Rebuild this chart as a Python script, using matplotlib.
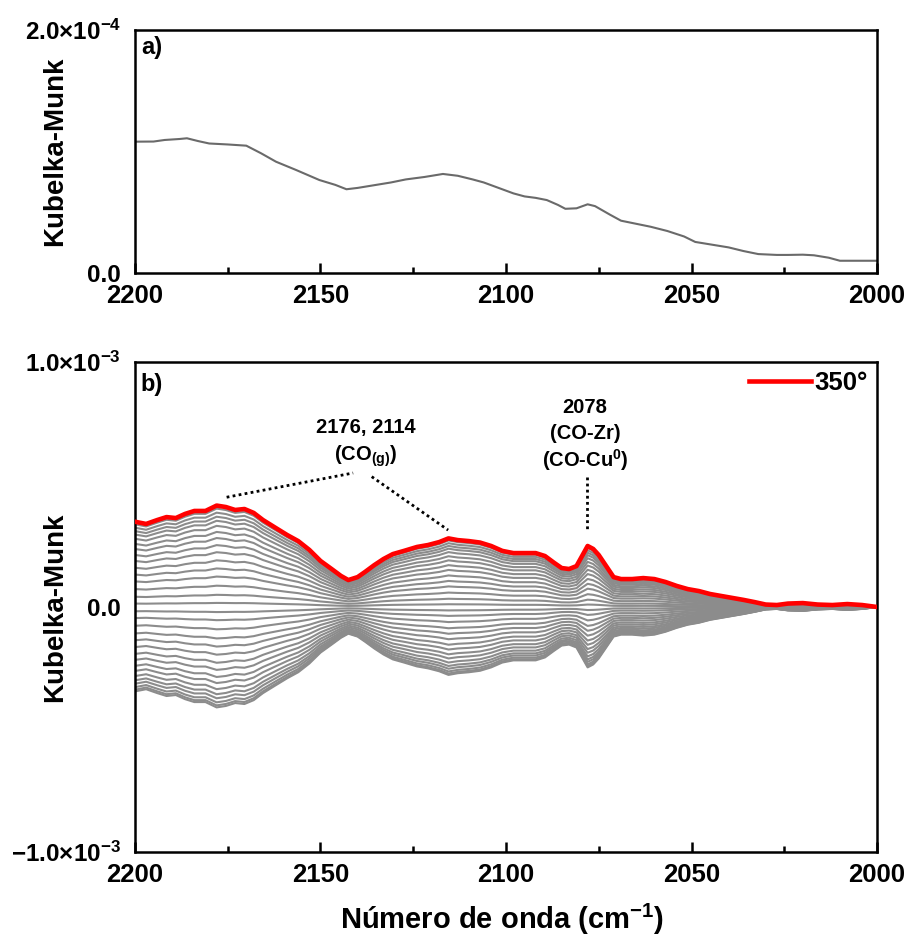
import numpy as np
import matplotlib
matplotlib.use("Agg")
import matplotlib.pyplot as plt
from matplotlib.ticker import MultipleLocator, FixedLocator

plt.rcParams['font.family'] = ['Liberation Sans', 'DejaVu Sans']
plt.rcParams['font.weight'] = 'bold'
plt.rcParams['mathtext.fontset'] = 'custom'
plt.rcParams['mathtext.rm'] = 'Liberation Sans:bold'
plt.rcParams['mathtext.bf'] = 'Liberation Sans:bold'
plt.rcParams['mathtext.it'] = 'Liberation Sans:bold'
plt.rcParams['mathtext.default'] = 'bf'
plt.rcParams['axes.unicode_minus'] = True

# ---------------- data ----------------
# panel a) single spectrum (x 1e-4)
wn_a = [2200, 2195, 2192, 2188, 2186, 2183, 2180, 2175, 2170, 2166, 2162, 2156.6,
        2150.3, 2146, 2143, 2140, 2136, 2131, 2127, 2122, 2117, 2113, 2109, 2106,
        2102, 2098, 2095, 2092, 2089, 2086, 2084, 2081, 2078, 2076, 2072, 2069,
        2065, 2061, 2056.5, 2052, 2049, 2045, 2040, 2036, 2032, 2027, 2024, 2020,
        2017, 2013, 2010, 2005, 2000]
km_a = [1.081, 1.082, 1.095, 1.103, 1.109, 1.086, 1.066, 1.058, 1.048, 0.985, 0.916, 0.848,
        0.765, 0.725, 0.689, 0.700, 0.720, 0.745, 0.770, 0.790, 0.815, 0.800, 0.770, 0.745,
        0.700, 0.655, 0.630, 0.618, 0.600, 0.560, 0.528, 0.532, 0.565, 0.550, 0.480, 0.430,
        0.405, 0.380, 0.345, 0.300, 0.255, 0.235, 0.210, 0.180, 0.155, 0.148, 0.148, 0.150,
        0.145, 0.125, 0.100, 0.100, 0.100]

# panel b) 350 degree spectrum (x 1e-3)
wn_b = [2200, 2197, 2194, 2191.5, 2189, 2186.5, 2184, 2181, 2178, 2175.5, 2173, 2170.5,
        2168, 2165.5, 2162, 2159, 2156, 2153, 2150, 2147, 2144.5, 2142.5, 2140, 2138,
        2135.5, 2133, 2130.5, 2127.5, 2124, 2121, 2118, 2115.5, 2113, 2110, 2107, 2104,
        2101, 2098, 2095, 2092, 2089.5, 2087, 2085, 2083, 2081, 2079.5, 2078, 2076.5,
        2075, 2073, 2071, 2069, 2066, 2063, 2060, 2057, 2054, 2051, 2048, 2045, 2042,
        2039, 2036, 2033, 2030, 2027, 2024, 2020, 2016, 2012, 2008, 2004, 2000]
km_350 = [0.348, 0.339, 0.355, 0.367, 0.363, 0.380, 0.392, 0.392, 0.414, 0.408, 0.396, 0.400,
          0.384, 0.355, 0.322, 0.294, 0.269, 0.233, 0.188, 0.155, 0.127, 0.110, 0.122, 0.143,
          0.171, 0.196, 0.216, 0.229, 0.245, 0.253, 0.265, 0.280, 0.273, 0.269, 0.263, 0.249,
          0.229, 0.220, 0.220, 0.220, 0.208, 0.180, 0.159, 0.155, 0.167, 0.208, 0.249, 0.237,
          0.212, 0.167, 0.122, 0.114, 0.114, 0.118, 0.114, 0.102, 0.086, 0.073, 0.065, 0.053,
          0.045, 0.037, 0.029, 0.020, 0.010, 0.008, 0.014, 0.016, 0.010, 0.008, 0.012, 0.008,
          0.000]

# relative amplitude of each gray spectrum with respect to the 350 degree one
gray_factors = [1.00, 0.97, 0.93, 0.89, 0.85, 0.80, 0.74, 0.68, 0.61, 0.54, 0.46, 0.38,
                0.30, 0.21, 0.12, 0.04, -0.05, -0.13, -0.22, -0.31, -0.39, -0.47, -0.55,
                -0.62, -0.69, -0.75, -0.81, -0.86, -0.90, -0.94, -0.97, -0.99]

xticks = [2200, 2150, 2100, 2050, 2000]
legend_label = "350°"

# ---------------- figure ----------------
fig = plt.figure(figsize=(9.06, 9.41), dpi=100)
ax1 = fig.add_axes([0.149, 0.710, 0.819, 0.258])
ax2 = fig.add_axes([0.149, 0.0946, 0.819, 0.5207])

FS_XTICK = 18.5
FS_YTICK = 17.5
for ax in (ax1, ax2):
    ax.set_xlim(2200, 2000)
    ax.xaxis.set_major_locator(FixedLocator(xticks))
    ax.xaxis.set_minor_locator(MultipleLocator(25))
    ax.tick_params(axis='x', which='major', direction='in', length=7, width=1.8,
                   labelsize=FS_XTICK, pad=8)
    ax.tick_params(axis='x', which='minor', direction='in', length=4, width=1.8)
    ax.tick_params(axis='y', which='both', length=0, labelsize=FS_YTICK, pad=10)
    for s in ax.spines.values():
        s.set_linewidth(1.8)
    for lab in ax.get_xticklabels():
        lab.set_fontweight('bold')

# panel a
wa = np.array(wn_a)
ka = np.array(km_a) * 1e-4
ax1.plot(wa, ka, color='#6a6a6a', lw=1.5)
ax1.set_ylim(0, 2e-4)
ax1.set_yticks([0, 2e-4])
ax1.set_yticklabels(['0.0', r'2.0×10$^{-4}$'])
ax1.set_ylabel('Kubelka-Munk', fontsize=20, fontweight='bold')
ax1.yaxis.set_label_coords(-0.090, 0.5)
ax1.text(0.008, 0.93, 'a)', transform=ax1.transAxes, fontsize=17, fontweight='bold',
         ha='left', va='center')

# panel b
wb = np.array(wn_b)
kb = np.array(km_350) * 1e-3
for f in gray_factors:
    ax2.plot(wb, f * kb, color='#8c8c8c', lw=1.5)
ax2.plot(wb, kb, color='#ff0000', lw=3.3, label=legend_label, zorder=5)
ax2.set_ylim(-1e-3, 1e-3)
ax2.set_yticks([-1e-3, 0, 1e-3])
ax2.set_yticklabels([r'−1.0×10$^{-3}$', '0.0', r'1.0×10$^{-3}$'])
ax2.set_ylabel('Kubelka-Munk', fontsize=20, fontweight='bold')
ax2.yaxis.set_label_coords(-0.090, 0.5)
ax2.text(0.008, 0.955, 'b)', transform=ax2.transAxes, fontsize=17, fontweight='bold',
         ha='left', va='center')

leg = ax2.legend(loc='upper right', frameon=False, fontsize=18.5, handlelength=2.4,
                 handletextpad=0.15, borderaxespad=0.15, borderpad=0.2)
for t in leg.get_texts():
    t.set_fontweight('bold')

# annotations
dot = dict(color='black', lw=2.0, linestyle=(0, (1, 1.2)))
ax2.plot([2175.3, 2141.2], [0.448e-3, 0.547e-3], **dot)
ax2.plot([2136.2, 2115.6], [0.532e-3, 0.314e-3], **dot)
ax2.plot([2078.1, 2078.1], [0.532e-3, 0.314e-3], **dot)

FS_ANN = 14.5
ax2.text(2137.7, 0.731e-3, '2176, 2114', ha='center', va='center', fontsize=FS_ANN, fontweight='bold')
ax2.text(2137.7, 0.616e-3, r'(CO$_{(g)}$)', ha='center', va='center', fontsize=FS_ANN, fontweight='bold')
ax2.text(2078.7, 0.816e-3, '2078', ha='center', va='center', fontsize=FS_ANN, fontweight='bold')
ax2.text(2078.7, 0.710e-3, '(CO-Zr)', ha='center', va='center', fontsize=FS_ANN, fontweight='bold')
ax2.text(2078.7, 0.600e-3, r'(CO-Cu$^{0}$)', ha='center', va='center', fontsize=FS_ANN, fontweight='bold')

fig.text(502 / 906, 1 - 919 / 941, r'Número de onda (cm$^{-1}$)', ha='center', va='center',
         fontsize=21, fontweight='bold')

fig.savefig('out.png', dpi=100)
